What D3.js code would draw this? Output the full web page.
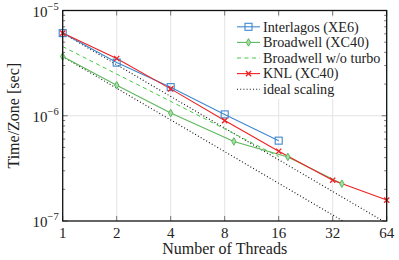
<!DOCTYPE html>
<html>
<head>
<meta charset="utf-8">
<script src="https://cdn.jsdelivr.net/npm/d3@7"></script>
<style>
  body { margin: 0; background: #fff; }
</style>
</head>
<body>
<div id="chart"></div>
<script>
// data
var threadTicks = [1, 2, 4, 8, 16, 32, 64];
var yTicks = [1e-7, 1e-6, 1e-5];

var interlagosThreads = [1, 2, 4, 8, 16];
var interlagosTime = [6.1e-6, 3.2e-6, 1.87e-6, 1.03e-6, 5.8e-7];

var broadwellThreads = [1, 2, 4, 9, 18, 36];
var broadwellTime = [3.65e-6, 1.95e-6, 1.06e-6, 5.7e-7, 4.06e-7, 2.26e-7];

var noTurboThreads = [1, 2, 4, 8, 16];
var noTurboTime = [4.54e-6, 2.49e-6, 1.37e-6, 7.5e-7, 4.1e-7];

var knlThreads = [1, 2, 4, 8, 16, 32, 64];
var knlTime = [6.1e-6, 3.5e-6, 1.8e-6, 9.0e-7, 4.6e-7, 2.44e-7, 1.58e-7];

// ideal scaling starts from the single thread values
var idealStart = [6.1e-6, 3.65e-6];

var width = 399, height = 260;
var margin = {left: 62.7, right: 12.3, top: 10.5, bottom: 39};
var serif = "'Liberation Serif'";

var svg = d3.select("#chart").append("svg")
    .attr("width", width)
    .attr("height", height);

var x = d3.scaleLog().base(2)
    .domain([1, 64])
    .range([margin.left, width - margin.right]);

var y = d3.scaleLog()
    .domain([1e-7, 1e-5])
    .range([height - margin.bottom, margin.top]);

var x0 = x.range()[0], x1 = x.range()[1];
var y0 = y.range()[0], y1 = y.range()[1];

svg.append("defs").append("clipPath").attr("id", "clip")
  .append("rect")
    .attr("x", x0).attr("y", y1)
    .attr("width", x1 - x0).attr("height", y0 - y1);

// grid
svg.append("g")
  .selectAll("line")
  .data(threadTicks.slice(1, -1))
  .enter().append("line")
    .attr("x1", d => x(d)).attr("x2", d => x(d))
    .attr("y1", y0).attr("y2", y1)
    .attr("stroke", "#e3e3e3").attr("stroke-width", 1);

svg.append("g")
  .selectAll("line")
  .data([1e-6])
  .enter().append("line")
    .attr("x1", x0).attr("x2", x1)
    .attr("y1", d => y(d)).attr("y2", d => y(d))
    .attr("stroke", "#e3e3e3").attr("stroke-width", 1);

// ticks inside, on all four sides
var minor = [];
[1e-7, 1e-6].forEach(function(dec){
  for (var k = 2; k <= 9; k++) minor.push(dec * k);
});

var tickG = svg.append("g").attr("stroke", "#555").attr("stroke-width", 0.8);
minor.forEach(function(v){
  tickG.append("line").attr("x1", x0).attr("x2", x0 + 2.5).attr("y1", y(v)).attr("y2", y(v));
  tickG.append("line").attr("x1", x1).attr("x2", x1 - 2.5).attr("y1", y(v)).attr("y2", y(v));
});
yTicks.forEach(function(v){
  tickG.append("line").attr("x1", x0).attr("x2", x0 + 5).attr("y1", y(v)).attr("y2", y(v));
  tickG.append("line").attr("x1", x1).attr("x2", x1 - 5).attr("y1", y(v)).attr("y2", y(v));
});
threadTicks.forEach(function(v){
  tickG.append("line").attr("x1", x(v)).attr("x2", x(v)).attr("y1", y0).attr("y2", y0 - 5);
  tickG.append("line").attr("x1", x(v)).attr("x2", x(v)).attr("y1", y1).attr("y2", y1 + 5);
});

// lines
var plot = svg.append("g").attr("clip-path", "url(#clip)");

function series(xs, ys){
  return xs.map(function(t, i){ return [t, ys[i]]; });
}
var line = d3.line().x(d => x(d[0])).y(d => y(d[1]));

idealStart.forEach(function(v){
  plot.append("path")
    .attr("d", line([[1, v], [64, v / 64]]))
    .attr("fill", "none")
    .attr("stroke", "#111")
    .attr("stroke-width", 1.1)
    .attr("stroke-dasharray", "1,2.2");
});

var blue = "#3f88d0", green = "#5cb85c", green2 = "#44c844", red = "#ee2222";

plot.append("path")
  .attr("d", line(series(noTurboThreads, noTurboTime)))
  .attr("fill", "none").attr("stroke", green2).attr("stroke-width", 1)
  .attr("stroke-dasharray", "4,3.5");

plot.append("path")
  .attr("d", line(series(broadwellThreads, broadwellTime)))
  .attr("fill", "none").attr("stroke", green).attr("stroke-width", 1.1);

plot.append("path")
  .attr("d", line(series(interlagosThreads, interlagosTime)))
  .attr("fill", "none").attr("stroke", blue).attr("stroke-width", 1.1);

plot.append("path")
  .attr("d", line(series(knlThreads, knlTime)))
  .attr("fill", "none").attr("stroke", red).attr("stroke-width", 1.1);

// markers
function square(g, cx, cy){
  g.append("rect").attr("x", cx - 3.5).attr("y", cy - 3.5).attr("width", 7).attr("height", 7)
    .attr("fill", "none").attr("stroke", blue).attr("stroke-width", 1.1);
}
function diamond(g, cx, cy){
  g.append("path")
    .attr("d", "M" + cx + "," + (cy - 3.8) + "L" + (cx + 2.2) + "," + cy + "L" + cx + "," + (cy + 3.8) + "L" + (cx - 2.2) + "," + cy + "Z")
    .attr("fill", "#a6dba6").attr("stroke", green).attr("stroke-width", 1);
}
function cross(g, cx, cy){
  var s = 2.6;
  g.append("path")
    .attr("d", "M" + (cx - s) + "," + (cy - s) + "L" + (cx + s) + "," + (cy + s) + "M" + (cx - s) + "," + (cy + s) + "L" + (cx + s) + "," + (cy - s))
    .attr("stroke", red).attr("stroke-width", 1.3);
}

var mk = svg.append("g");
series(interlagosThreads, interlagosTime).forEach(d => square(mk, x(d[0]), y(d[1])));
series(broadwellThreads, broadwellTime).forEach(d => diamond(mk, x(d[0]), y(d[1])));
series(knlThreads, knlTime).forEach(d => cross(mk, x(d[0]), y(d[1])));

// frame
svg.append("rect")
  .attr("x", x0).attr("y", y1)
  .attr("width", x1 - x0).attr("height", y0 - y1)
  .attr("fill", "none").attr("stroke", "#111").attr("stroke-width", 1.3);

// tick labels
svg.append("g")
  .selectAll("text")
  .data(threadTicks)
  .enter().append("text")
    .attr("x", d => x(d))
    .attr("y", y0 + 17)
    .attr("text-anchor", "middle")
    .style("font-family", serif)
    .style("font-size", "15px")
    .style("fill", "#222")
    .text(d => d);

var ylab = svg.append("g")
  .selectAll("text")
  .data(yTicks)
  .enter().append("text")
    .attr("x", x0 - 4)
    .attr("y", d => y(d) + 6)
    .attr("text-anchor", "end")
    .style("font-family", serif)
    .style("fill", "#222")
    .style("font-size", "15px");
ylab.append("tspan").text("10");
ylab.append("tspan")
  .attr("dy", -7)
  .style("font-size", "10.5px")
  .text(d => "\u2212" + Math.round(-Math.log10(d)));

// axis titles
svg.append("text")
  .attr("x", (x0 + x1) / 2)
  .attr("y", 254)
  .attr("text-anchor", "middle")
  .style("font-family", serif)
  .style("fill", "#222")
  .style("font-size", "16px")
  .text("Number of Threads");

svg.append("text")
  .attr("transform", "translate(19," + ((y0 + y1) / 2) + ") rotate(-90)")
  .attr("text-anchor", "middle")
  .style("font-family", serif)
  .style("fill", "#222")
  .style("font-size", "16px")
  .text("Time/Zone [sec]");

// legend
var legendNames = ["Interlagos (XE6)", "Broadwell (XC40)", "Broadwell w/o turbo", "KNL (XC40)", "ideal scaling"];
var lg = svg.append("g");
lg.append("rect")
  .attr("x", 231).attr("y", 17).attr("width", 152).attr("height", 82)
  .attr("fill", "#fff");

legendNames.forEach(function(name, i){
  var ly = 26.8 + i * 15.6;
  var l = lg.append("line")
    .attr("x1", 237).attr("x2", 260).attr("y1", ly).attr("y2", ly)
    .attr("stroke-width", 1.1);
  if (i == 0) { l.attr("stroke", blue); square(lg, 248.5, ly); }
  if (i == 1) { l.attr("stroke", green); diamond(lg, 248.5, ly); }
  if (i == 2) { l.attr("stroke", green2).attr("stroke-width", 1).attr("stroke-dasharray", "4,3.5"); }
  if (i == 3) { l.attr("stroke", red); cross(lg, 248.5, ly); }
  if (i == 4) { l.attr("stroke", "#111").attr("stroke-dasharray", "1,2.2"); }
  lg.append("text")
    .attr("x", 263).attr("y", ly + 4.8)
    .style("font-family", serif)
    .style("fill", "#222")
    .style("font-size", "14.2px")
    .text(name);
});
</script>
</body>
</html>
